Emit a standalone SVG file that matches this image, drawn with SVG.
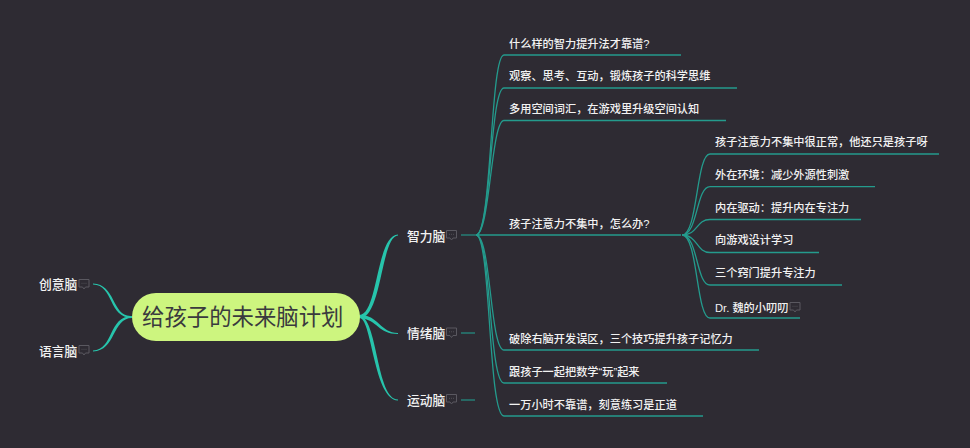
<svg xmlns="http://www.w3.org/2000/svg" width="970" height="448" viewBox="0 0 970 448">
<defs>
<g id="note"><path d="M0.5 0.5H10.5V8H7L5.500 10L4 8H0.5Z" fill="none" stroke="#5a5860" stroke-width="1"/><path d="M3 4.300h1M5 4.300h1M7 4.300h1" stroke="#5a5860" stroke-width="0.8"/></g>
</defs>
<style>
text{font-family:"Liberation Sans","Noto Sans CJK SC",sans-serif;fill:#f2f2f2}
.l{font-size:11.2px;font-weight:500}
.b{font-size:12.8px;font-weight:500}
.t{font-size:22.4px;fill:#3a3a3e}
.m{fill:#27c4ac;stroke:none}
.c{fill:none;stroke:#249b8d;stroke-width:1.1}
.u{fill:none;stroke:#249b8d;stroke-width:1.3}
</style>
<rect width="970" height="448" fill="#2e2b33"/>
<g id="connectors">
<path class="m" d="M132 316C112 318 116 284 93 283.600V284.600C114 285 108 318 132 318Z"/>
<path class="m" d="M132 316C108 316 114 350 93 350.400V351.400C116 351 112 318 132 318Z"/>
<path class="m" d="M359 315C378 316 376 235 398 234.600V235.400C381 236 382 318 360 318Z"/>
<path class="m" d="M359 315C378 314 380 333 398 333V334C378 334 378 320 360 318Z"/>
<path class="m" d="M359 315C378 317 376 399 398 399.600V400.400C374 400 372 320 360 318Z"/>
<path class="c" d="M461 235H476"/>
<path class="c" d="M461 333H475"/>
<path class="c" d="M461 400H475" stroke-width="1.5"/>
<path class="u" d="M476 235C492 235 490 55 504 55H681"/>
<path class="u" d="M476 235C491 235 490 88 504 88H737"/>
<path class="u" d="M476 235C490 235 491 120.500 504 120.500H726"/>
<path class="u" d="M476 235H681"/>
<path class="u" d="M476 235C491 235 490 350 504 350H759"/>
<path class="u" d="M476 235C491 235 489 383 504 383H667"/>
<path class="u" d="M476 235C491 235 488 416 504 416H703"/>
<path class="u" d="M682 235C698 235 696 154 710 154H939"/>
<path class="u" d="M682 235C698 235 696 186.700 710 186.700H875"/>
<path class="u" d="M682 235C698 235 696 219.500 710 219.500H861"/>
<path class="u" d="M682 235C698 235 696 252.500 710 252.500H819"/>
<path class="u" d="M682 235C698 235 696 285 710 285H842"/>
<path class="u" d="M682 235C698 235 696 318 710 318H800"/>
</g>
<g id="root"><rect x="132" y="293" width="228" height="48" rx="24" fill="#cdf57f"/><text class="t" x="142" y="325">给孩子的未来脑计划</text></g>
<g id="n-chuangyi"><text class="b" x="39" y="289">创意脑</text><use href="#note" x="78.500" y="279"/></g>
<g id="n-yuyan"><text class="b" x="39" y="356">语言脑</text><use href="#note" x="78.500" y="345"/></g>
<g id="n-zhili"><text class="b" x="407" y="241">智力脑</text><use href="#note" x="446" y="230"/></g>
<g id="n-qingxu"><text class="b" x="407" y="338">情绪脑</text><use href="#note" x="446" y="327.500"/></g>
<g id="n-yundong"><text class="b" x="407" y="405">运动脑</text><use href="#note" x="446" y="394"/></g>
<g id="n1"><text class="l" x="509" y="48">什么样的智力提升法才靠谱?</text></g>
<g id="n2"><text class="l" x="509" y="80">观察、思考、互动，锻炼孩子的科学思维</text></g>
<g id="n3"><text class="l" x="509" y="113">多用空间词汇，在游戏里升级空间认知</text></g>
<g id="n4"><text class="l" x="509" y="228">孩子注意力不集中，怎么办?</text></g>
<g id="n5"><text class="l" x="509" y="343">破除右脑开发误区，三个技巧提升孩子记忆力</text></g>
<g id="n6"><text class="l" x="509" y="376">跟孩子一起把数学“玩”起来</text></g>
<g id="n7"><text class="l" x="509" y="409">一万小时不靠谱，刻意练习是正道</text></g>
<g id="s1"><text class="l" x="715" y="146">孩子注意力不集中很正常，他还只是孩子呀</text></g>
<g id="s2"><text class="l" x="715" y="179">外在环境：减少外源性刺激</text></g>
<g id="s3"><text class="l" x="715" y="212">内在驱动：提升内在专注力</text></g>
<g id="s4"><text class="l" x="715" y="244">向游戏设计学习</text></g>
<g id="s5"><text class="l" x="715" y="277">三个窍门提升专注力</text></g>
<g id="s6"><text class="l" x="715" y="312">Dr. 魏的小叨叨</text><use href="#note" x="789.500" y="302"/></g>
</svg>
